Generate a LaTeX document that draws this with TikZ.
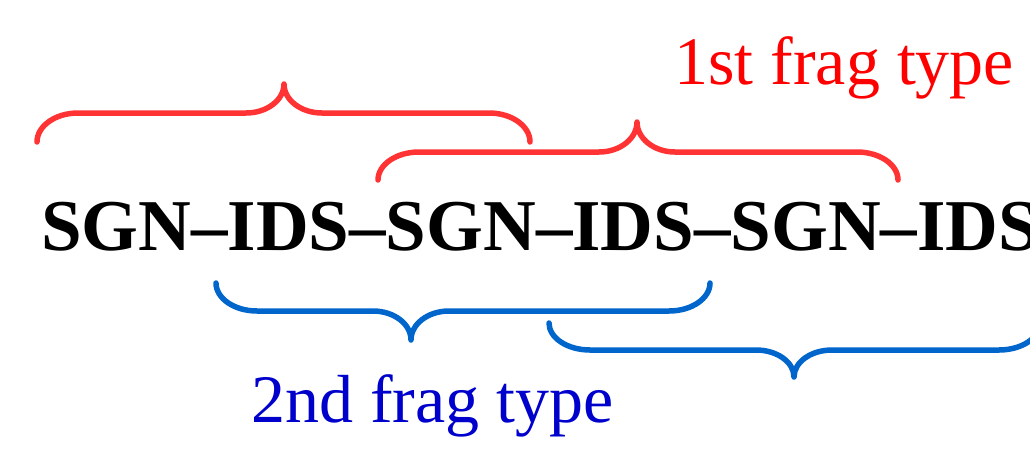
\documentclass[tikz,border=0pt]{standalone}
\usepackage{fontspec}
\setmainfont{Liberation Serif}
\definecolor{bracered}{RGB}{255,51,51}
\definecolor{braceblue}{RGB}{0,102,204}
\definecolor{labelred}{RGB}{255,0,0}
\definecolor{labelblue}{RGB}{0,0,204}
\tikzset{
  bracestroke/.style={line width=5.5pt, line cap=round, line join=round},
  chain/.style={inner sep=0pt, anchor=base west, font=\fontsize{73}{80}\selectfont\bfseries},
  fraglabel/.style={inner sep=0pt, anchor=base west, font=\fontsize{68}{75}\selectfont},
}
% curly brace: colour, left x, tip x, right x, end y, bar y, tip y
\newcommand\fragbrace[7]{%
  \draw[bracestroke,#1]
    (#2,#5) .. controls (#2,{#5+0.552*(#6-#5)}) and ({#2+0.448*41},#6) .. ({#2+41},#6)
    -- ({#3-38},#6) .. controls ({#3-0.448*38},#6) and (#3,{#7+0.552*(#6-#7)}) .. (#3,#7)
    .. controls (#3,{#7+0.552*(#6-#7)}) and ({#3+0.448*38},#6) .. ({#3+38},#6)
    -- ({#4-41},#6) .. controls ({#4-0.448*41},#6) and (#4,{#5+0.552*(#6-#5)}) .. (#4,#5);}
\begin{document}
\begin{tikzpicture}[x=1pt,y=-1pt]
  \useasboundingbox (0,0) rectangle (1030,453);
  \clip (0,0) rectangle (1030,453);

  \node[chain] (seq) at (41,250) {SGN–IDS–SGN–IDS–SGN–IDS};

  % first fragment type, above the chain
  \fragbrace{bracered}{37}{284}{530}{142}{113}{84}
  \fragbrace{bracered}{378}{637}{898}{180}{152}{122}
  % second fragment type, below the chain
  \fragbrace{braceblue}{216}{411}{710}{283}{311}{340}
  \fragbrace{braceblue}{549}{794}{1040}{323}{350}{377}

  \node[fraglabel, text=labelred] (first) at (674,84) {1st frag type};
  \node[fraglabel, text=labelblue] (second) at (251,422) {2nd frag type};
\end{tikzpicture}
\end{document}
